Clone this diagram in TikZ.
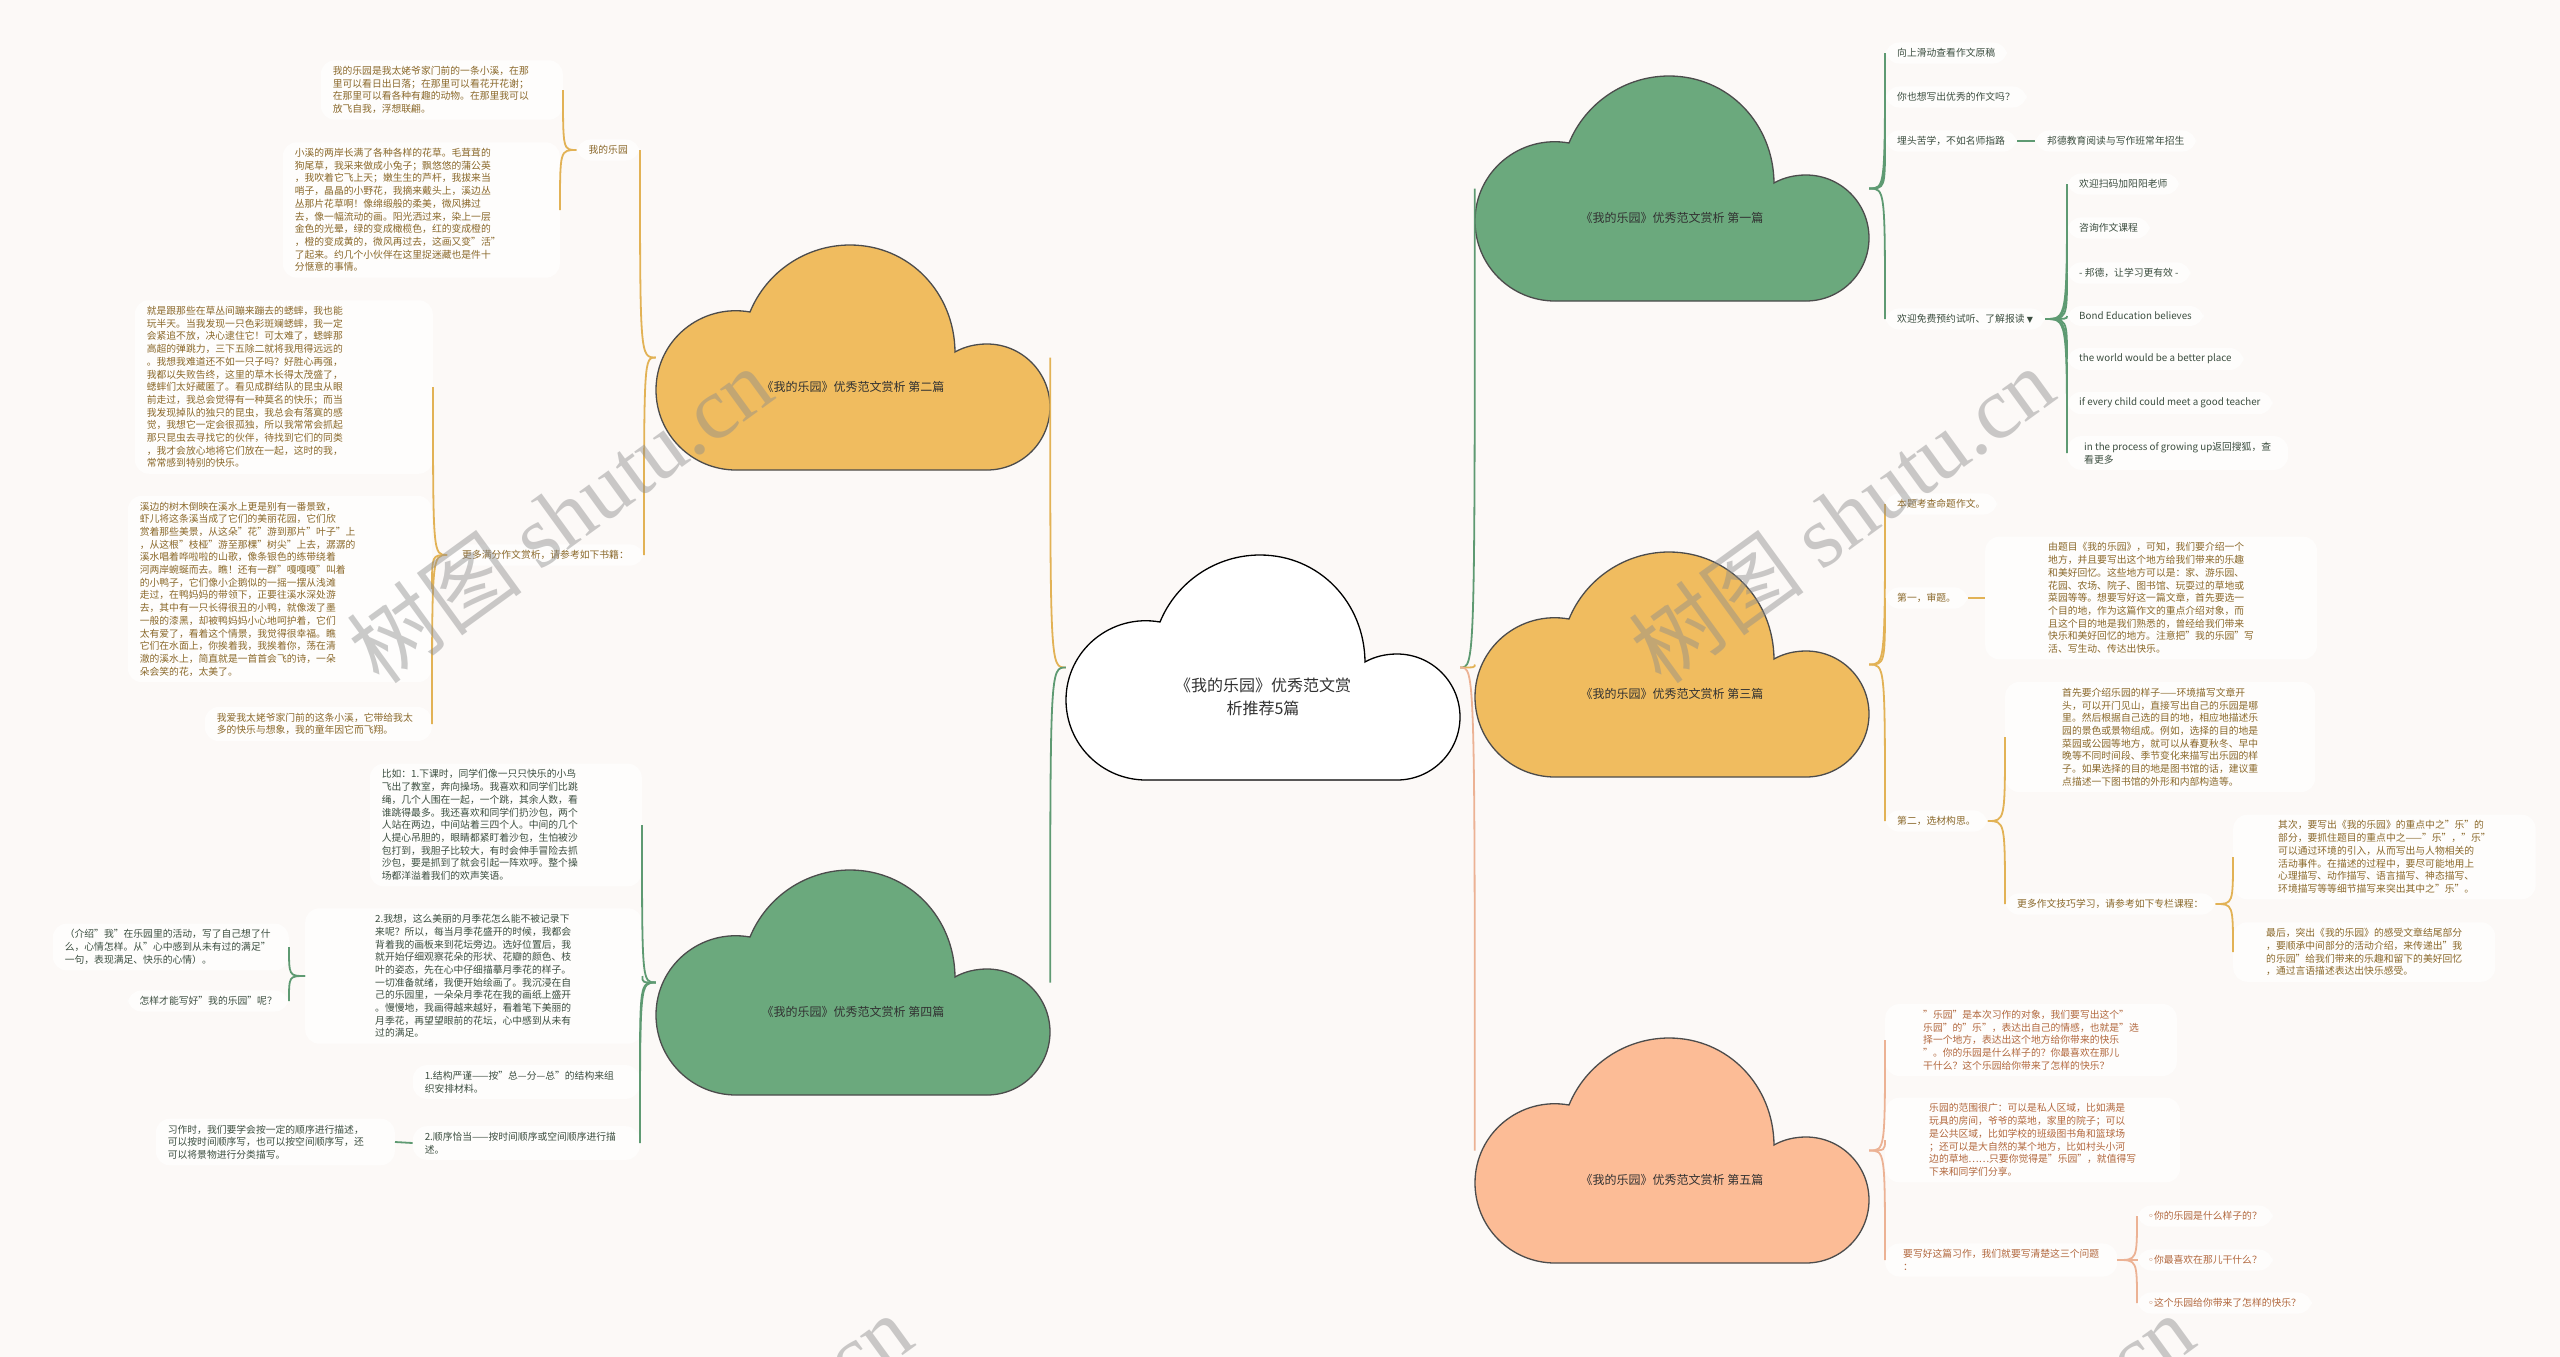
\documentclass[tikz,border=0pt]{standalone}
\usepackage{fontspec}
\setmainfont{Noto Sans CJK SC}
\newfontfamily\dejavu{DejaVu Sans}
\newfontfamily\wmserif{Liberation Serif}
\definecolor{bgc}{RGB}{252,249,247}
\definecolor{ycl}{RGB}{240,188,95}
\definecolor{gcl}{RGB}{107,169,125}
\definecolor{scl}{RGB}{252,188,150}
\definecolor{yln}{RGB}{226,178,85}
\definecolor{gln}{RGB}{94,154,114}
\definecolor{sln}{RGB}{236,178,148}
\definecolor{ytx}{RGB}{138,104,42}
\definecolor{gtx}{RGB}{60,78,64}
\definecolor{stx}{RGB}{178,104,62}
\definecolor{ctx}{RGB}{50,50,50}
\definecolor{nbg}{RGB}{254,253,252}
\newcommand\cloudnode[7]{%
  \draw[line width=1.3pt, draw=#5, fill=#4, shift={(#2,#3)}] (80,225) .. controls (35.8,225) and (0,189.2) .. (0,145) .. controls (0,95.3) and (45,58.3) .. (94,67) .. controls (110.6,26.5) and (150.25,0) .. (194,0) .. controls (253.3,0) and (298.5,47.7) .. (299,107) .. controls (308.6,101.5) and (319.9,99) .. (331,99) .. controls (365.8,99) and (394,127.2) .. (394,162) .. controls (394,196.8) and (365.8,225) .. (331,225) -- cycle;
  \node[cloudbox] (#1) at (#2+197,#3+112.5) {};
  \node[cloudtxt, font=#6] (#1t) at (#2+197,#3+142) {#7};
}
\newcommand\link[3]{\draw[#1] (#2) .. controls (#3 |- #2) .. (#3);}
\begin{document}
\begin{tikzpicture}[x=1pt,y=-1pt,
  cloudbox/.style={minimum width=394pt, minimum height=225pt, inner sep=0pt},
  cloudtxt/.style={align=center, text=ctx, inner sep=2pt},
  base/.style={font=\fontsize{9.8}{12.7}\selectfont, align=left, inner xsep=12pt, inner ysep=6pt, fill=nbg, rounded corners=14pt},
  yt/.style={base, text=ytx},
  gt/.style={base, text=gtx},
  st/.style={base, text=stx},
  yl/.style={draw=yln, line width=1.8pt},
  gl/.style={draw=gln, line width=1.8pt},
  sl/.style={draw=sln, line width=1.8pt},
  wm/.style={text=black!45, text opacity=0.45, font=\fontsize{88}{88}\selectfont, rotate=36, inner sep=0pt}
]
\fill[bgc] (0,0) rectangle (2560,1357);
\useasboundingbox (0,0) rectangle (2560,1357);

% clouds
\cloudnode{c0}{1066}{555}{white}{black}{\fontsize{16}{23}\selectfont}{《我的乐园》优秀范文赏\\析推荐5篇}
\cloudnode{c1}{1475}{76}{gcl}{black!70}{\fontsize{12}{15}\selectfont}{《我的乐园》优秀范文赏析 第一篇}
\cloudnode{c2}{656}{245}{ycl}{black!70}{\fontsize{12}{15}\selectfont}{《我的乐园》优秀范文赏析 第二篇}
\cloudnode{c3}{1475}{552}{ycl}{black!70}{\fontsize{12}{15}\selectfont}{《我的乐园》优秀范文赏析 第三篇}
\cloudnode{c4}{656}{870}{gcl}{black!70}{\fontsize{12}{15}\selectfont}{《我的乐园》优秀范文赏析 第四篇}
\cloudnode{c5}{1475}{1038}{scl}{black!70}{\fontsize{12}{15}\selectfont}{《我的乐园》优秀范文赏析 第五篇}

% ---------- branch 2 (left top, yellow)
\node[yt, anchor=east] (l1) at (640,150) {我的乐园};
\node[yt, anchor=east, text width=218pt] (a1) at (563,90) {我的乐园是我太姥爷家门前的一条小溪，在那\\里可以看日出日落；在那里可以看花开花谢；\\在那里可以看各种有趣的动物。在那里我可以\\放飞自我，浮想联翩。};
\node[yt, anchor=east, text width=253pt] (a2) at (560,210) {小溪的两岸长满了各种各样的花草。毛茸茸的\\狗尾草，我采来做成小兔子；飘悠悠的蒲公英\\，我吹着它飞上天；嫩生生的芦杆，我拔来当\\哨子，晶晶的小野花，我摘来戴头上，溪边丛\\丛那片花草啊！像绵缎般的柔美，微风拂过\\去，像一幅流动的画。阳光洒过来，染上一层\\金色的光晕，绿的变成橄榄色，红的变成橙的\\，橙的变成黄的，微风再过去，这画又变"活"\\了起来。约几个小伙伴在这里捉迷藏也是件十\\分惬意的事情。};
\node[yt, anchor=west, inner xsep=15pt] (l2) at (447,555) {更多满分作文赏析，请参考如下书籍：};
\node[yt, anchor=east, text width=274pt] (a3) at (433,387) {就是跟那些在草丛间蹦来蹦去的蟋蟀，我也能\\玩半天。当我发现一只色彩斑斓蟋蟀，我一定\\会紧追不放，决心逮住它！可太难了，蟋蟀那\\高超的弹跳力，三下五除二就将我甩得远远的\\。我想我难道还不如一只子吗？好胜心再强，\\我都以失败告终，这里的草木长得太茂盛了，\\蟋蟀们太好藏匿了。看见成群结队的昆虫从眼\\前走过，我总会觉得有一种莫名的快乐；而当\\我发现掉队的独只的昆虫，我总会有落寞的感\\觉，我想它一定会很孤独，所以我常常会抓起\\那只昆虫去寻找它的伙伴，待找到它们的同类\\，我才会放心地将它们放在一起，这时的我，\\常常感到特别的快乐。};
\node[yt, anchor=east, text width=280pt] (a4) at (432,589) {溪边的树木倒映在溪水上更是别有一番景致，\\虾儿将这条溪当成了它们的美丽花园，它们欣\\赏着那些美景，从这朵"花"游到那片"叶子"上\\，从这根"枝桠"游至那棵"树尖"上去，潺潺的\\溪水唱着哗啦啦的山歌，像条银色的练带绕着\\河两岸蜿蜒而去。瞧！还有一群"嘎嘎嘎"叫着\\的小鸭子，它们像小企鹅似的一摇一摆从浅滩\\走过，在鸭妈妈的带领下，正要往溪水深处游\\去，其中有一只长得很丑的小鸭，就像泼了墨\\一般的漆黑，却被鸭妈妈小心地呵护着，它们\\太有爱了，看着这个情景，我觉得很幸福。瞧\\它们在水面上，你挨着我，我挨着你，荡在清\\澈的溪水上，简直就是一首首会飞的诗，一朵\\朵会笑的花，太美了。};
\node[yt, anchor=east, text width=203pt] (a5) at (432,724) {我爱我太姥爷家门前的这条小溪，它带给我太\\多的快乐与想象，我的童年因它而飞翔。};

\link{yl}{c0.west}{c2.east}
\link{yl}{c2.west}{l1.east}
\link{yl}{c2.west}{l2.east}
\link{yl}{l1.west}{a1.east}
\link{yl}{l1.west}{a2.east}
\link{yl}{l2.west}{a3.east}
\link{yl}{l2.west}{a4.east}
\link{yl}{l2.west}{a5.east}

% ---------- branch 4 (left bottom, green)
\node[gt, anchor=east, text width=248pt] (f1) at (642,825) {比如：1.下课时，同学们像一只只快乐的小鸟\\飞出了教室，奔向操场。我喜欢和同学们比跳\\绳，几个人围在一起，一个跳，其余人数，看\\谁跳得最多。我还喜欢和同学们扔沙包，两个\\人站在两边，中间站着三四个人。中间的几个\\人提心吊胆的，眼睛都紧盯着沙包，生怕被沙\\包打到，我胆子比较大，有时会伸手冒险去抓\\沙包，要是抓到了就会引起一阵欢呼。整个操\\场都洋溢着我们的欢声笑语。};
\node[gt, anchor=west, inner xsep=70pt, text width=197pt] (f2) at (305,976) {2.我想，这么美丽的月季花怎么能不被记录下\\来呢？所以，每当月季花盛开的时候，我都会\\背着我的画板来到花坛旁边。选好位置后，我\\就开始仔细观察花朵的形状、花瓣的颜色、枝\\叶的姿态，先在心中仔细描摹月季花的样子。\\一切准备就绪，我便开始绘画了。我沉浸在自\\己的乐园里，一朵朵月季花在我的画纸上盛开\\。慢慢地，我画得越来越好，看着笔下美丽的\\月季花，再望望眼前的花坛，心中感到从未有\\过的满足。};
\node[gt, anchor=east, text width=212pt] (f3) at (289,947) {（介绍"我"在乐园里的活动，写了自己想了什\\么，心情怎样。从"心中感到从未有过的满足"\\一句，表现满足、快乐的心情）。};
\node[gt, anchor=east] (f4) at (289,1001) {怎样才能写好"我的乐园"呢？};
\node[gt, anchor=east, text width=203pt] (f5) at (640,1082) {1.结构严谨——按"总—分—总"的结构来组\\织安排材料。};
\node[gt, anchor=east, text width=203pt] (f6) at (640,1143) {2.顺序恰当——按时间顺序或空间顺序进行描\\述。};
\node[gt, anchor=east, text width=215pt] (f7) at (395,1142) {习作时，我们要学会按一定的顺序进行描述，\\可以按时间顺序写，也可以按空间顺序写，还\\可以将景物进行分类描写。};

\link{gl}{c0.west}{c4.east}
\link{gl}{c4.west}{f1.east}
\link{gl}{c4.west}{f2.east}
\link{gl}{c4.west}{f5.east}
\link{gl}{c4.west}{f6.east}
\link{gl}{f2.west}{f3.east}
\link{gl}{f2.west}{f4.east}
\draw[gl] (f7.east) -- (f6.west);

% ---------- branch 1 (right top, green)
\node[gt, anchor=west] (r1) at (1885,53) {向上滑动查看作文原稿};
\node[gt, anchor=west] (r2) at (1885,97) {你也想写出优秀的作文吗？};
\node[gt, anchor=west] (r3) at (1885,141) {埋头苦学，不如名师指路};
\node[gt, anchor=west] (r3a) at (2035,141) {邦德教育阅读与写作班常年招生};
\node[gt, anchor=west] (r4) at (1885,319) {欢迎免费预约试听、了解报读 {\dejavu\fontsize{8}{10}\selectfont ▼}};
\node[gt, anchor=west] (q1) at (2067,184) {欢迎扫码加阳阳老师};
\node[gt, anchor=west] (q2) at (2067,228) {咨询作文课程};
\node[gt, anchor=west] (q3) at (2067,273) {- 邦德，让学习更有效 -};
\node[gt, anchor=west] (q4) at (2067,316) {Bond Education believes};
\node[gt, anchor=west] (q5) at (2067,359) {the world would be a better place};
\node[gt, anchor=west] (q6) at (2067,403) {if every child could meet a good teacher};
\node[gt, anchor=west, inner xsep=17pt] (q7) at (2067,453) {in the process of growing up返回搜狐，查\\看更多};

\link{gl}{c0.east}{c1.west}
\link{gl}{c1.east}{r1.west}
\link{gl}{c1.east}{r2.west}
\link{gl}{c1.east}{r3.west}
\link{gl}{c1.east}{r4.west}
\draw[gl] (r3.east) -- (r3a.west);
\link{gl}{r4.east}{q1.west}
\link{gl}{r4.east}{q2.west}
\link{gl}{r4.east}{q3.west}
\link{gl}{r4.east}{q4.west}
\link{gl}{r4.east}{q5.west}
\link{gl}{r4.east}{q6.west}
\link{gl}{r4.east}{q7.west}

% ---------- branch 3 (right middle, yellow)
\node[yt, anchor=west] (s1) at (1885,504) {本题考查命题作文。};
\node[yt, anchor=west] (s2) at (1885,598) {第一，审题。};
\node[yt, anchor=west, inner xsep=63pt] (s2a) at (1985,598) {由题目《我的乐园》，可知，我们要介绍一个\\地方，并且要写出这个地方给我们带来的乐趣\\和美好回忆。这些地方可以是：家、游乐园、\\花园、农场、院子、图书馆、玩耍过的草地或\\菜园等等。想要写好这一篇文章，首先要选一\\个目的地，作为这篇作文的重点介绍对象，而\\且这个目的地是我们熟悉的，曾经给我们带来\\快乐和美好回忆的地方。注意把"我的乐园"写\\活、写生动、传达出快乐。};
\node[yt, anchor=west] (s3) at (1885,821) {第二，选材构思。};
\node[yt, anchor=west, inner xsep=57pt] (s3a) at (2005,737) {首先要介绍乐园的样子——环境描写文章开\\头，可以开门见山，直接写出自己的乐园是哪\\里。然后根据自己选的目的地，相应地描述乐\\园的景色或景物组成。例如，选择的目的地是\\菜园或公园等地方，就可以从春夏秋冬、早中\\晚等不同时间段、季节变化来描写出乐园的样\\子。如果选择的目的地是图书馆的话，建议重\\点描述一下图书馆的外形和内部构造等。};
\node[yt, anchor=west] (s3b) at (2005,904) {更多作文技巧学习，请参考如下专栏课程：};
\node[yt, anchor=west, inner xsep=45pt] (s3c) at (2233,857) {其次，要写出《我的乐园》的重点中之"乐"的\\部分，要抓住题目的重点中之——"乐"，"乐"\\可以通过环境的引入，从而写出与人物相关的\\活动事件。在描述的过程中，要尽可能地用上\\心理描写、动作描写、语言描写、神态描写、\\环境描写等等细节描写来突出其中之"乐"。};
\node[yt, anchor=west, inner xsep=33pt] (s3d) at (2233,952) {最后，突出《我的乐园》的感受文章结尾部分\\，要顺承中间部分的活动介绍，来传递出"我\\的乐园"给我们带来的乐趣和留下的美好回忆\\，通过言语描述表达出快乐感受。};

\link{yl}{c0.east}{c3.west}
\link{yl}{c3.east}{s1.west}
\link{yl}{c3.east}{s2.west}
\link{yl}{c3.east}{s3.west}
\draw[yl] (s2.east) -- (s2a.west);
\link{yl}{s3.east}{s3a.west}
\link{yl}{s3.east}{s3b.west}
\link{yl}{s3b.east}{s3c.west}
\link{yl}{s3b.east}{s3d.west}

% ---------- branch 5 (right bottom, salmon)
\node[st, anchor=west, inner xsep=38pt] (t1) at (1885,1040) {"乐园"是本次习作的对象，我们要写出这个"\\乐园"的"乐"，表达出自己的情感，也就是"选\\择一个地方，表达出这个地方给你带来的快乐\\"。你的乐园是什么样子的？你最喜欢在那儿\\干什么？这个乐园给你带来了怎样的快乐？};
\node[st, anchor=west, inner xsep=44pt] (t2) at (1885,1140) {乐园的范围很广：可以是私人区域，比如满是\\玩具的房间，爷爷的菜地，家里的院子；可以\\是公共区域，比如学校的班级图书角和篮球场\\；还可以是大自然的某个地方，比如村头小河\\边的草地……只要你觉得是"乐园"，就值得写\\下来和同学们分享。};
\node[st, anchor=west, inner xsep=18pt] (t3) at (1885,1260) {要写好这篇习作，我们就要写清楚这三个问题\\：};
\node[st, anchor=west, inner xsep=11pt] (t3a) at (2137,1216) {{\dejavu ◦}你的乐园是什么样子的？};
\node[st, anchor=west, inner xsep=11pt] (t3b) at (2137,1260) {{\dejavu ◦}你最喜欢在那儿干什么？};
\node[st, anchor=west, inner xsep=11pt] (t3c) at (2137,1303) {{\dejavu ◦}这个乐园给你带来了怎样的快乐？};

\link{sl}{c0.east}{c5.west}
\link{sl}{c5.east}{t1.west}
\link{sl}{c5.east}{t2.west}
\link{sl}{c5.east}{t3.west}
\link{sl}{t3.east}{t3a.west}
\link{sl}{t3.east}{t3b.west}
\link{sl}{t3.east}{t3c.west}

% watermark
\node[wm] (wm1) at (560,515) {树图 {\wmserif shutu.cn}};
\node[wm] (wm2) at (1842,515) {树图 {\wmserif shutu.cn}};
\node[wm] (wm3) at (700,1462) {树图 {\wmserif shutu.cn}};
\node[wm] (wm4) at (1982,1462) {树图 {\wmserif shutu.cn}};
\end{tikzpicture}
\end{document}
